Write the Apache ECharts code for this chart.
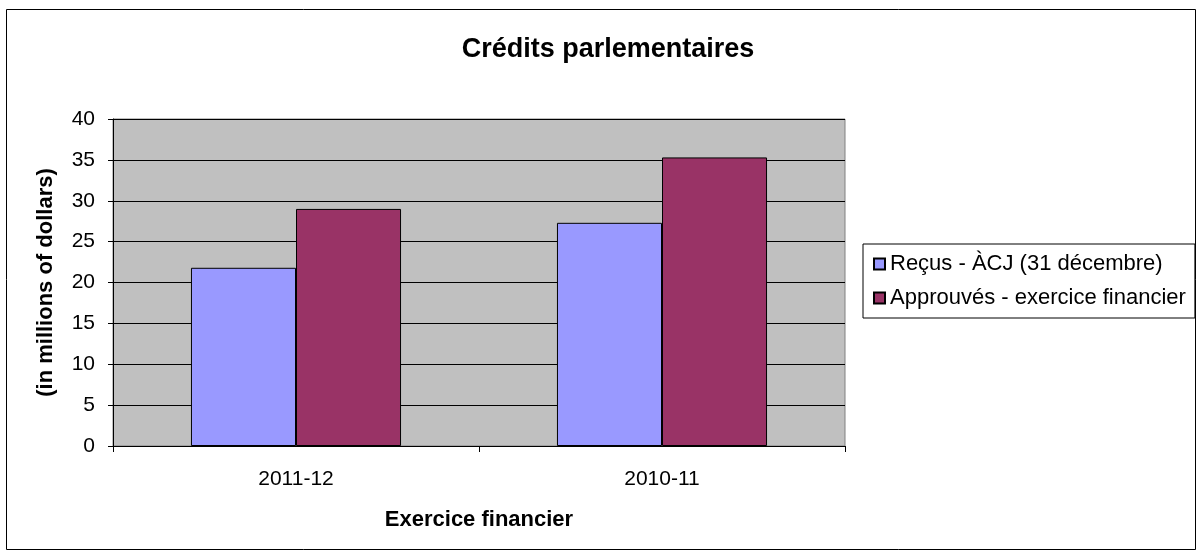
<!DOCTYPE html>
<html>
<head>
<meta charset="utf-8">
<script src="https://cdn.jsdelivr.net/npm/echarts@6/dist/echarts.min.js"></script>
<style>
html,body{margin:0;padding:0;background:#fff;}
#chart{width:1200px;height:554px;}
</style>
</head>
<body>
<div id="chart"></div>
<script>
var categories = ['2011-12', '2010-11'];
var seriesNames = ['Reçus - ÀCJ (31 décembre)', 'Approuvés - exercice financier'];
var recusValues = [21.8, 27.3];
var approuvesValues = [29.0, 35.3];
var yTicks = {min: 0, max: 40, interval: 5};

var FONT = '"Liberation Sans", Arial, sans-serif';
var chart = echarts.init(document.getElementById('chart'), null, {renderer: 'canvas'});
chart.setOption({
  backgroundColor: '#ffffff',
  animation: false,
  textStyle: {fontFamily: FONT, color: '#000'},
  title: {
    text: 'Crédits parlementaires',
    left: 603, top: 31, textAlign: 'center',
    textStyle: {fontFamily: FONT, fontSize: 27, fontWeight: 'bold', color: '#000'}
  },
  graphic: [{
    type: 'rect', silent: true,
    shape: {x: 6.5, y: 9.5, width: 1189, height: 540},
    style: {fill: 'none', stroke: '#000', lineWidth: 1}
  }],
  legend: {
    orient: 'vertical', left: 863, top: 244,
    borderColor: '#000', borderWidth: 1, borderRadius: 0,
    padding: [9, 9, 9, 10],
    itemWidth: 11, itemHeight: 11, itemGap: 12,
    icon: 'rect',
    textStyle: {fontFamily: FONT, fontSize: 22, color: '#000'},
    data: seriesNames
  },
  grid: {
    left: 113, right: 355, top: 119, bottom: 108,
    show: true, backgroundColor: '#C0C0C0', borderColor: '#808080', borderWidth: 1
  },
  xAxis: {
    type: 'category', data: categories,
    name: 'Exercice financier', nameLocation: 'middle', nameGap: 63,
    nameTextStyle: {fontFamily: FONT, fontSize: 22, fontWeight: 'bold', color: '#000'},
    axisLine: {lineStyle: {color: '#000', width: 1}},
    axisTick: {show: true, alignWithLabel: false, length: 6, lineStyle: {color: '#000'}},
    axisLabel: {fontFamily: FONT, fontSize: 21, color: '#000', margin: 23},
    splitLine: {show: false}
  },
  yAxis: {
    type: 'value', min: yTicks.min, max: yTicks.max, interval: yTicks.interval,
    name: '(in millions of dollars)', nameLocation: 'middle', nameGap: 56, nameRotate: 90,
    nameTextStyle: {fontFamily: FONT, fontSize: 22, fontWeight: 'bold', color: '#000'},
    axisLine: {show: true, lineStyle: {color: '#000', width: 1}},
    axisTick: {show: true, length: 5, lineStyle: {color: '#000'}},
    axisLabel: {fontFamily: FONT, fontSize: 21, color: '#000', margin: 18},
    splitLine: {show: true, lineStyle: {color: '#000', width: 1}}
  },
  series: [
    {
      name: seriesNames[0], type: 'bar', data: recusValues,
      barGap: '0%', barCategoryGap: '42.6%',
      itemStyle: {color: '#9999FF', borderColor: '#000', borderWidth: 1}
    },
    {
      name: seriesNames[1], type: 'bar', data: approuvesValues,
      barGap: '0%', barCategoryGap: '42.6%',
      itemStyle: {color: '#993366', borderColor: '#000', borderWidth: 1}
    }
  ]
});
</script>
</body>
</html>
